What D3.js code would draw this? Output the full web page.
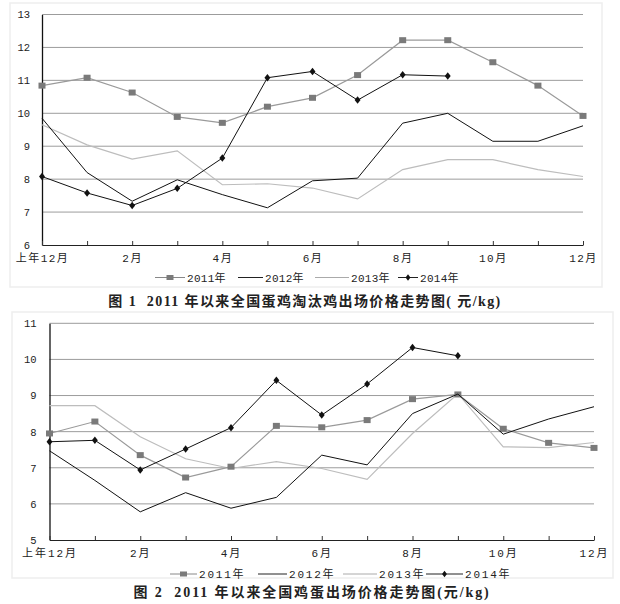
<!DOCTYPE html>
<html><head><meta charset="utf-8">
<script src="https://cdn.jsdelivr.net/npm/d3@7"></script>
<style>
body{margin:0;background:#fff;}
svg{display:block;}
text.title{white-space:pre;}
</style></head>
<body>
<svg id="c" width="620" height="604"></svg>
<script>
// ---- shared categories ----
const months = ["上年12月","1月","2月","3月","4月","5月","6月","7月","8月","9月","10月","11月","12月"];
const shownLabels = ["上年12月","","2月","","4月","","6月","","8月","","10月","","12月"];
const seriesNames = ["2011年","2012年","2013年","2014年"];

// ---- Figure 1: culled hen price ----
const fig1Title = "图 1  2011 年以来全国蛋鸡淘汰鸡出场价格走势图( 元/kg)";
const fig1Ticks = [6,7,8,9,10,11,12,13];
const fig1_2011 = [10.84,11.08,10.63,9.89,9.71,10.2,10.47,11.16,12.22,12.22,11.55,10.84,9.92];
const fig1_2012 = [9.85,8.2,7.33,7.98,7.53,7.13,7.95,8.03,9.7,10.0,9.15,9.15,9.62];
const fig1_2013 = [9.65,9.04,8.61,8.86,7.83,7.86,7.73,7.4,8.29,8.59,8.59,8.29,8.08];
const fig1_2014 = [8.08,7.58,7.2,7.72,8.64,11.08,11.27,10.4,11.17,11.13];

// ---- Figure 2: egg price ----
const fig2Title = "图 2  2011 年以来全国鸡蛋出场价格走势图(元/kg)";
const fig2Ticks = [5,6,7,8,9,10,11];
const fig2_2011 = [7.95,8.28,7.35,6.73,7.03,8.16,8.12,8.32,8.9,9.03,8.08,7.69,7.55];
const fig2_2012 = [7.47,6.65,5.78,6.31,5.88,6.18,7.35,7.08,8.5,9.04,7.93,8.35,8.69];
const fig2_2013 = [8.72,8.72,7.86,7.25,6.98,7.17,6.98,6.68,7.95,9.05,7.58,7.56,7.7];
const fig2_2014 = [7.72,7.76,6.94,7.52,8.11,9.42,8.46,9.32,10.33,10.1];

const svg = d3.select("#c");

const styles = [
  {stroke:"#9a9a9a", width:1.2, marker:"square", mfill:"#7a7a7a"},
  {stroke:"#111", width:1, marker:null},
  {stroke:"#bdbdbd", width:1.2, marker:null},
  {stroke:"#111", width:1, marker:"diamond", mfill:"#111"}
];

function drawChart(cfg){
  const g = svg.append("g");
  // faint frame
  g.append("rect").attr("x",cfg.frame[0]).attr("y",cfg.frame[1])
    .attr("width",cfg.frame[2]).attr("height",cfg.frame[3])
    .attr("fill","none").attr("stroke","#eeeeee").attr("stroke-width",1.5);

  const x = d3.scalePoint().domain(months).range([cfg.x0,cfg.x1]);
  const y = d3.scaleLinear().domain(d3.extent(cfg.ticks)).range([cfg.yb,cfg.yt]);

  // gridlines
  g.append("g").selectAll("line").data(cfg.ticks.slice(1)).join("line")
    .attr("x1",cfg.x0).attr("x2",cfg.x1)
    .attr("y1",d=>y(d)).attr("y2",d=>y(d))
    .attr("stroke","#9c9c9c").attr("stroke-width",1);

  // y axis
  const ya = g.append("g").attr("transform",`translate(${cfg.x0},0)`)
    .call(d3.axisLeft(y).tickValues(cfg.ticks).tickSize(0).tickPadding(cfg.ypad).tickFormat(d3.format("d")));
  ya.select(".domain").attr("stroke","#111").attr("stroke-width",1.3);
  ya.selectAll("text").attr("font-family","Liberation Mono, DejaVu Sans Mono, monospace")
    .attr("font-size",10.5).attr("fill","#222");

  // x axis
  const xa = g.append("g").attr("transform",`translate(0,${cfg.yb})`)
    .call(d3.axisBottom(x).tickSizeInner(-4).tickSizeOuter(0).tickPadding(9)
      .tickFormat((d,i)=>shownLabels[i]));
  xa.select(".domain").attr("stroke","#222").attr("stroke-width",1.2);
  xa.selectAll(".tick line").attr("stroke","#333");
  xa.selectAll("text").attr("font-family","Liberation Mono, 'Noto Sans CJK SC', monospace")
    .attr("font-size",11).attr("letter-spacing",cfg.xls).attr("fill","#222");

  const line = d3.line().x((d,i)=>x(months[i])).y(d=>y(d));
  // draw order: 2013, 2011, 2012, 2014
  [2,0,1,3].forEach(si=>{
    const data = cfg.series[si], st = styles[si];
    g.append("path").datum(data).attr("d",line).attr("fill","none")
      .attr("stroke",st.stroke).attr("stroke-width",st.width);
    if(st.marker==="square"){
      g.append("g").selectAll("rect").data(data).join("rect")
        .attr("x",(d,i)=>x(months[i])-3.5).attr("y",d=>y(d)-3)
        .attr("width",7).attr("height",6).attr("fill",st.mfill);
    } else if(st.marker==="diamond"){
      g.append("g").selectAll("path").data(data).join("path")
        .attr("d",d3.symbol(d3.symbolDiamond,18))
        .attr("transform",(d,i)=>`translate(${x(months[i])},${y(d)}) scale(1.3,0.95)`)
        .attr("fill",st.mfill);
    }
  });

  // legend
  const lg = g.append("g");
  cfg.legend.forEach((L,si)=>{
    const st = styles[si];
    lg.append("line").attr("x1",L[0]).attr("x2",L[1]).attr("y1",cfg.ly).attr("y2",cfg.ly)
      .attr("stroke",si===2?"#aaa":(si===0?"#888":"#222")).attr("stroke-width",1);
    const mx=(L[0]+L[1])/2;
    if(st.marker==="square"){
      lg.append("rect").attr("x",mx-3.5).attr("y",cfg.ly-2.5).attr("width",7).attr("height",5).attr("fill","#7a7a7a");
    } else if(st.marker==="diamond"){
      lg.append("path").attr("d",d3.symbol(d3.symbolDiamond,14)).attr("transform",`translate(${mx},${cfg.ly}) scale(1.2,0.9)`).attr("fill","#111");
    }
    lg.append("text").attr("x",L[1]+2).attr("y",cfg.ly+4).text(seriesNames[si])
      .attr("font-family","Liberation Mono, 'Noto Sans CJK SC', monospace")
      .attr("font-size",11).attr("letter-spacing",cfg.lls).attr("fill","#222");
  });

  // title
  g.append("text").attr("class","title").attr("x",cfg.tx).attr("y",cfg.ty).attr("text-anchor","middle")
    .attr("xml:space","preserve")
    .attr("font-family","'Liberation Serif','Noto Sans CJK SC',serif").attr("font-weight","bold")
    .attr("font-size",14).attr("letter-spacing",cfg.tls).attr("fill","#222").text(cfg.title);
}

drawChart({
  x0:42, x1:583, yt:14.5, yb:245, ticks:fig1Ticks, ypad:12, xls:1.5,
  series:[fig1_2011,fig1_2012,fig1_2013,fig1_2014],
  legend:[[155,185],[238,263],[315,349],[398,418]], ly:277.5, lls:0.3,
  frame:[10,3,592,284],
  title:fig1Title, tx:305, ty:306, tls:1.4
});
drawChart({
  x0:49.5, x1:594, yt:323.3, yb:540, ticks:fig2Ticks, ypad:13, xls:2,
  series:[fig2_2011,fig2_2012,fig2_2013,fig2_2014],
  legend:[[170,197],[258,287],[343,377],[426,463]], ly:574, lls:1.8,
  frame:[12,312,601,266],
  title:fig2Title, tx:312, ty:597, tls:1.9
});
</script>
</body></html>
